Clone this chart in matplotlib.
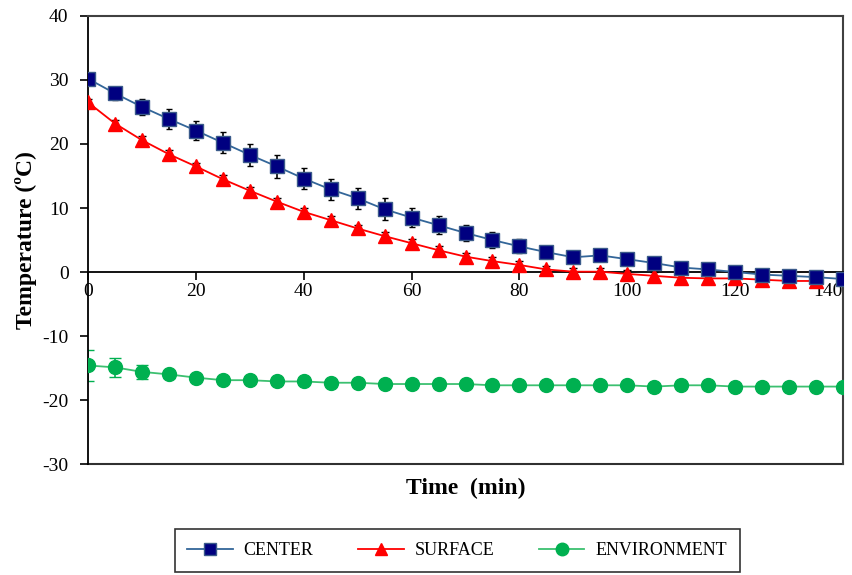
import numpy as np
import matplotlib.pyplot as plt

plt.rcParams['font.family'] = ['Liberation Serif', 'DejaVu Serif']
plt.rcParams['axes.unicode_minus'] = False

# data
time = [0, 5, 10, 15, 20, 25, 30, 35, 40, 45, 50, 55, 60, 65, 70,
        75, 80, 85, 90, 95, 100, 105, 110, 115, 120, 125, 130, 135, 140]
center = [30.2, 27.9, 25.8, 23.9, 22.1, 20.2, 18.3, 16.5, 14.6, 12.9, 11.5,
          9.8, 8.5, 7.3, 6.1, 5.0, 4.0, 3.1, 2.3, 2.6, 2.0, 1.4, 0.7, 0.4,
          0.0, -0.4, -0.6, -0.8, -1.1]
center_err = [0.5, 1.0, 1.2, 1.5, 1.5, 1.6, 1.7, 1.8, 1.7, 1.7, 1.6, 1.7,
              1.5, 1.4, 1.3, 1.2, 1.1, 0.8, 0.6, 0.5, 0.4, 0.4, 0.4, 0.4,
              0.4, 0.4, 0.4, 0.4, 0.4]
surface = [26.5, 23.2, 20.6, 18.4, 16.5, 14.5, 12.7, 11.0, 9.4, 8.1, 6.8,
           5.6, 4.5, 3.4, 2.4, 1.7, 1.1, 0.4, 0.05, 0.05, -0.3, -0.6, -0.9,
           -1.0, -1.0, -1.2, -1.4, -1.4]
surface_err = [0.6] * 28
environment = [-14.6, -14.9, -15.6, -16.0, -16.5, -16.9, -16.9, -17.1, -17.1,
               -17.3, -17.3, -17.5, -17.5, -17.5, -17.5, -17.7, -17.7, -17.7,
               -17.7, -17.7, -17.7, -17.9, -17.7, -17.7, -17.9, -17.9, -17.9,
               -17.9, -17.9]
environment_err = [2.4, 1.5, 1.1, 0.5, 0.4, 0.4, 0.4, 0.4, 0.4, 0.4, 0.4,
                   0.4, 0.4, 0.4, 0.4, 0.4, 0.4, 0.4, 0.4, 0.4, 0.4, 0.4,
                   0.4, 0.4, 0.4, 0.4, 0.4, 0.4, 0.4]

fig = plt.figure(figsize=(8.53, 5.75), dpi=100)
ax = fig.add_axes([0.1032, 0.193, 0.8851, 0.7792])

ax.errorbar(time, center, yerr=center_err, fmt='none', ecolor='black',
            elinewidth=1.2, capsize=2, zorder=2)
ax.errorbar(time[:28], surface, yerr=surface_err, fmt='none', ecolor='black',
            elinewidth=1.2, capsize=3, zorder=2)
ax.errorbar(time, environment, yerr=environment_err, fmt='none',
            ecolor='#00B050', elinewidth=1.2, capsize=4, zorder=2)

ax.plot(time, center, color='#336699', lw=1.3, marker='s', markersize=10,
        markerfacecolor='#000080', markeredgecolor='#3a5a8a',
        markeredgewidth=1, label='CENTER', zorder=4)
ax.plot(time[:28], surface, color='#FF0000', lw=1.3, marker='^',
        markersize=10, markerfacecolor='#FF0000', markeredgecolor='#FF0000',
        label='SURFACE', zorder=3)
ax.plot(time, environment, color='#3CC070', lw=1.3, marker='o',
        markersize=10, markerfacecolor='#00B050', markeredgecolor='#00B050',
        label='ENVIRONMENT', zorder=3)

ax.set_xlim(0, 140)
ax.set_ylim(-30, 40)
ax.set_xticks(np.arange(0, 141, 20))
ax.set_yticks(np.arange(-30, 41, 10))

ax.spines['bottom'].set_position(('data', 0))
ax.spines['bottom'].set_linewidth(1.3)
ax.spines['left'].set_linewidth(1.3)
ax.spines['top'].set_color('#404040')
ax.spines['right'].set_color('#404040')
ax.spines['top'].set_linewidth(1.5)
ax.spines['right'].set_linewidth(1.5)
ax.axhline(-30, color='#303030', lw=1.5, clip_on=False, zorder=1)

ax.tick_params(axis='both', direction='out', length=6, width=1.2,
               labelsize=14, colors='black')
ax.tick_params(axis='x', pad=2)
ax.tick_params(axis='y', pad=8)
# keep the last x label inside the picture
ax.get_xticklabels()[-1].set_horizontalalignment('right')

ax.set_ylabel('Temperature (ºC)', fontsize=17, fontweight='bold', labelpad=4)
ax.text(0.5, -0.03, 'Time  (min)', transform=ax.transAxes, ha='center',
        va='top', fontsize=17, fontweight='bold')

leg = fig.legend(loc='center', ncol=3, bbox_to_anchor=(0.204, 0.006, 0.664, 0.073),
                 frameon=True, fancybox=False, edgecolor='black',
                 fontsize=13, handlelength=2.5, handletextpad=0.6,
                 columnspacing=2.5, borderpad=0.7, borderaxespad=0,
                 markerscale=0.9)
leg.get_frame().set_linewidth(1.2)

plt.savefig('out.png', dpi=100)
